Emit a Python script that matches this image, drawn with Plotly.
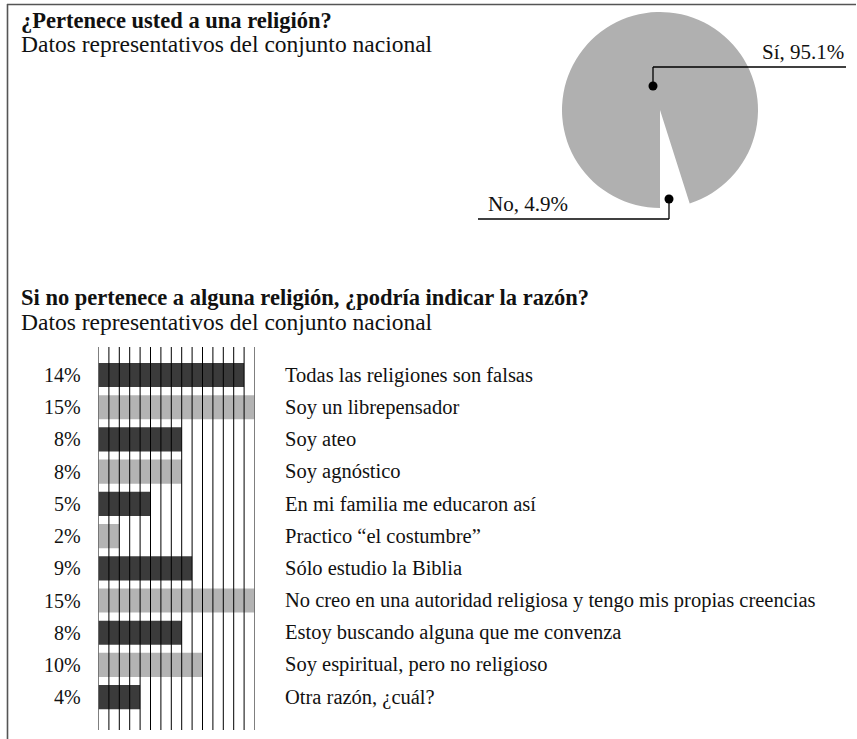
import plotly.graph_objects as go

W, H = 857, 739

pie_labels = ["No", "Sí"]
pie_values = [4.9, 95.1]

categories = [
    "Todas las religiones son falsas",
    "Soy un librepensador",
    "Soy ateo",
    "Soy agnóstico",
    "En mi familia me educaron así",
    "Practico “el costumbre”",
    "Sólo estudio la Biblia",
    "No creo en una autoridad religiosa y tengo mis propias creencias",
    "Estoy buscando alguna que me convenza",
    "Soy espiritual, pero no religioso",
    "Otra razón, ¿cuál?",
]
values = [14, 15, 8, 8, 5, 2, 9, 15, 8, 10, 4]
grid_ticks = list(range(0, 16))

DARK = "#3b3b3b"
LIGHT = "#b3b3b3"
FONT = "'Liberation Serif', Tinos, 'Times New Roman', serif"
TXT = "#111111"


def px(x):
    return x / W


def py(y):
    return 1 - y / H


ypos = list(range(len(categories)))
colors = [DARK if i % 2 == 0 else LIGHT for i in ypos]

fig = go.Figure()

fig.add_trace(go.Bar(
    x=values, y=ypos, orientation="h",
    marker=dict(color=colors, line=dict(width=0)),
    xaxis="x", yaxis="y", hoverinfo="skip", showlegend=False,
))

# vertical grid lines drawn on top of bars
gx, gy = [], []
for t in grid_ticks:
    gx += [t, t, None]
    gy += [-0.87, 11.02, None]
fig.add_trace(go.Scatter(
    x=gx, y=gy, mode="lines", line=dict(color="black", width=1),
    xaxis="x", yaxis="y", hoverinfo="skip", showlegend=False,
))

rotation = 180 - pie_values[0] / 100 * 360
fig.add_trace(go.Pie(
    labels=pie_labels, values=pie_values, sort=False, direction="clockwise",
    rotation=rotation,
    marker=dict(colors=["rgba(0,0,0,0)", "#b0b0b0"], line=dict(width=0)),
    textinfo="none", hoverinfo="skip", showlegend=False,
    domain=dict(x=[px(562), px(758)], y=[py(208), py(12)]),
))

annotations = []
for i, (c, v) in enumerate(zip(categories, values)):
    annotations.append(dict(
        x=px(83), y=i, xref="paper", yref="y", text=f"{v}%",
        xanchor="right", yanchor="middle", showarrow=False,
        font=dict(family=FONT, size=20, color=TXT),
    ))
    annotations.append(dict(
        x=px(283), y=i, xref="paper", yref="y", text=c,
        xanchor="left", yanchor="middle", showarrow=False,
        font=dict(family=FONT, size=20.5, color=TXT),
    ))

titles = [
    ("<b>¿Pertenece usted a una religión?</b>", 20, 22.5),
    ("Datos representativos del conjunto nacional", 44, 23.5),
    ("<b>Si no pertenece a alguna religión, ¿podría indicar la razón?</b>", 297, 22.5),
    ("Datos representativos del conjunto nacional", 322, 23.5),
]
for t, y, s in titles:
    annotations.append(dict(
        x=px(19), y=py(y), xref="paper", yref="paper", text=t,
        xanchor="left", yanchor="middle", showarrow=False,
        font=dict(family=FONT, size=s, color=TXT),
    ))

annotations.append(dict(
    x=px(846), y=py(66), xref="paper", yref="paper",
    text=f"{pie_labels[1]}, {pie_values[1]}%",
    xanchor="right", yanchor="bottom", showarrow=False,
    font=dict(family=FONT, size=21, color=TXT),
))
annotations.append(dict(
    x=px(486), y=py(218), xref="paper", yref="paper",
    text=f"{pie_labels[0]}, {pie_values[0]}%",
    xanchor="left", yanchor="bottom", showarrow=False,
    font=dict(family=FONT, size=21, color=TXT),
))

line = dict(color="black", width=1.3)
shapes = [
    # frame
    dict(type="line", xref="paper", yref="paper", x0=px(7), x1=px(856), y0=py(4.5), y1=py(4.5),
         line=dict(color="#555", width=1.6)),
    dict(type="line", xref="paper", yref="paper", x0=px(7.5), x1=px(7.5), y0=py(4), y1=py(739),
         line=dict(color="#555", width=1.6)),
    # Sí leader
    dict(type="line", xref="paper", yref="paper", x0=px(653), x1=px(653), y0=py(86), y1=py(67), line=line),
    dict(type="line", xref="paper", yref="paper", x0=px(653), x1=px(846), y0=py(67), y1=py(67), line=line),
    dict(type="circle", xref="paper", yref="paper", x0=px(648.5), x1=px(657.5), y0=py(81.5), y1=py(90.5),
         fillcolor="black", line=dict(width=0)),
    # No leader
    dict(type="line", xref="paper", yref="paper", x0=px(669), x1=px(669), y0=py(199), y1=py(219), line=line),
    dict(type="line", xref="paper", yref="paper", x0=px(478), x1=px(669), y0=py(219), y1=py(219), line=line),
    dict(type="circle", xref="paper", yref="paper", x0=px(664.5), x1=px(673.5), y0=py(194.5), y1=py(203.5),
         fillcolor="black", line=dict(width=0)),
]

fig.update_layout(
    width=W, height=H,
    margin=dict(l=0, r=0, t=0, b=0),
    paper_bgcolor="white", plot_bgcolor="rgba(0,0,0,0)",
    bargap=0.25,
    xaxis=dict(domain=[px(98.5), px(254.5)], range=[0, 15], showgrid=False, zeroline=False,
               showticklabels=False, showline=False, fixedrange=True),
    yaxis=dict(domain=[py(730), py(347)], range=[11.02, -0.87], showgrid=False, zeroline=False,
               showticklabels=False, showline=False, fixedrange=True),
    annotations=annotations,
    shapes=shapes,
    font=dict(family=FONT),
)

fig.write_html(
    "out.html",
    config={"displayModeBar": False},
    post_script="document.body.style.margin='0';document.body.style.overflow='hidden';",
)
